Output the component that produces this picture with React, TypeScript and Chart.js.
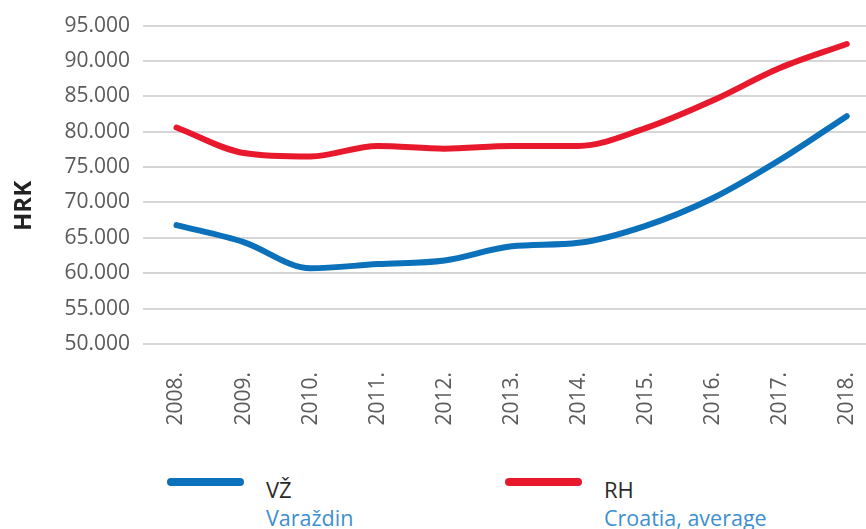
import React, { useEffect, useRef } from "react";
import { Chart, registerables } from "chart.js";

Chart.register(...registerables);

const years = ["2008.", "2009.", "2010.", "2011.", "2012.", "2013.", "2014.", "2015.", "2016.", "2017.", "2018."];
const varazdin = [66800, 64400, 60700, 61300, 61800, 63800, 64300, 66700, 70600, 76000, 82200];
const croatia = [80600, 77000, 76500, 78000, 77600, 78000, 78000, 80500, 84400, 89000, 92400];
const yTicks = [50000, 55000, 60000, 65000, 70000, 75000, 80000, 85000, 90000, 95000];
const yTitle = "HRK";
const seriesCodes = ["VŽ", "RH"];
const seriesNames = ["Varaždin", "Croatia, average"];

const BLUE = "#0a71ba";
const RED = "#e8192c";
const TICK = "#5a5a5a";

const fmt = (v: number) => {
  const s = Math.round(v).toString();
  return s.replace(/\B(?=(\d{3})+(?!\d))/g, ".");
};

const yTitlePlugin = {
  id: "yTitlePlugin",
  afterDraw(chart: any) {
    const ctx = chart.ctx;
    ctx.save();
    ctx.translate(24, 206);
    ctx.rotate(-Math.PI / 2);
    ctx.font = "bold 24px 'Open Sans', sans-serif";
    ctx.fillStyle = "#222";
    ctx.textAlign = "center";
    ctx.textBaseline = "middle";
    ctx.fillText(yTitle, 0, 0);
    ctx.restore();
  },
};

export default function App() {
  const ref = useRef<HTMLCanvasElement | null>(null);
  useEffect(() => {
    if (!ref.current) return;
    const chart = new Chart(ref.current, {
      type: "line",
      data: {
        labels: years,
        datasets: [
          {
            label: seriesCodes[0],
            data: varazdin,
            borderColor: BLUE,
            borderWidth: 6,
            pointRadius: 0,
            cubicInterpolationMode: "monotone",
            borderCapStyle: "round",
            borderJoinStyle: "round",
          },
          {
            label: seriesCodes[1],
            data: croatia,
            borderColor: RED,
            borderWidth: 6,
            pointRadius: 0,
            cubicInterpolationMode: "monotone",
            borderCapStyle: "round",
            borderJoinStyle: "round",
          },
        ],
      },
      options: {
        animation: false,
        responsive: false,
        maintainAspectRatio: false,
        layout: { padding: { left: 0, right: 2, top: 21, bottom: 0 } },
        plugins: { legend: { display: false }, tooltip: { enabled: false } },
        scales: {
          x: {
            type: "category",
            offset: true,
            grid: { display: false, drawTicks: false },
            border: { display: false },
            ticks: {
              minRotation: 90,
              maxRotation: 90,
              padding: 28,
              color: TICK,
              font: { family: "'Open Sans', sans-serif", size: 21 },
            },
            afterFit(scale: any) {
              scale.height = 106;
            },
          },
          y: {
            min: 50000,
            max: 95000,
            afterBuildTicks(scale: any) {
              scale.ticks = yTicks.map((v) => ({ value: v }));
            },
            grid: { color: "#d6d6d6", lineWidth: 2, drawTicks: false },
            border: { display: false },
            ticks: {
              padding: 13,
              color: TICK,
              font: { family: "'Open Sans', sans-serif", size: 21 },
              callback: (v: any) => fmt(Number(v)),
            },
            afterFit(scale: any) {
              scale.width = 143;
            },
          },
        },
      },
      plugins: [yTitlePlugin],
    } as any);
    return () => chart.destroy();
  }, []);

  const legendItem = (color: string, code: string, name: string, left: number) => (
    <div key={code}>
      <div
        style={{
          position: "absolute",
          left,
          top: 478,
          width: 77,
          height: 8,
          borderRadius: 4,
          background: color,
        }}
      />
      <div
        style={{
          position: "absolute",
          left: left + 99,
          top: 475,
          font: "500 22px 'Open Sans', sans-serif",
          color: "#2a2a2a",
          lineHeight: "28px",
        }}
      >
        {code}
      </div>
      <div
        style={{
          position: "absolute",
          left: left + 99,
          top: 504,
          font: "21.5px 'Open Sans', sans-serif",
          color: "#3d8fcf",
          lineHeight: "28px",
          whiteSpace: "nowrap",
        }}
      >
        {name}
      </div>
    </div>
  );

  return (
    <div
      style={{
        position: "fixed",
        left: 0,
        top: 0,
        width: 866,
        height: 529,
        overflow: "hidden",
        background: "#fff",
      }}
    >
      <canvas ref={ref} width={900} height={450} style={{ position: "absolute", left: 0, top: 0, width: 900, height: 450 }} />
      {legendItem(BLUE, seriesCodes[0], seriesNames[0], 167)}
      {legendItem(RED, seriesCodes[1], seriesNames[1], 505)}
    </div>
  );
}
